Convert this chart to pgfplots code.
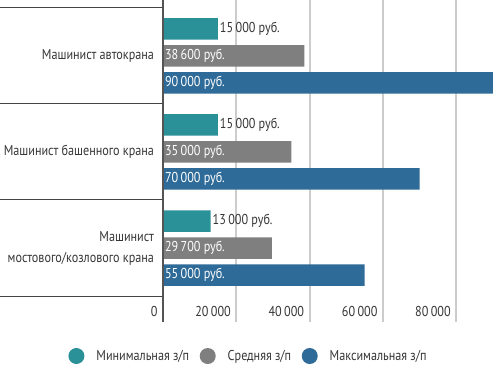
\documentclass[border=0pt]{standalone}
\usepackage{pgfplots}
\pgfplotsset{compat=1.18}
\usepackage{pgfplotstable}
\usepackage{fontspec}
\setmainfont{PT Sans}[FakeStretch=0.85]
\definecolor{cteal}{HTML}{2B9198}
\definecolor{cgray}{HTML}{7F7F7F}
\definecolor{cblue}{HTML}{2E6B99}
\definecolor{ctext}{HTML}{363636}
\definecolor{cgrid}{HTML}{CCCCCC}
\definecolor{caxis}{HTML}{555555}
\definecolor{csep}{HTML}{444444}
\newcommand{\lf}{\fontsize{14.3bp}{21bp}\selectfont}

\pgfplotstableread{
y minv avgv maxv
2 15000 38600 90000
1 15000 35000 70000
0 13000 29700 55000
}\data

\begin{document}
\begin{tikzpicture}
\useasboundingbox (0,0) rectangle (498bp,376bp);
\begin{axis}[
  at={(163bp,54bp)}, anchor=south west,
  scale only axis, width=335bp, height=322bp,
  xmin=0, xmax=91400, ymin=-0.7708, ymax=2.5833,
  axis line style={draw=none},
  major tick length=0pt,
  xtick={0,20000,40000,60000,80000},
  scaled x ticks=false,
  /pgf/number format/fixed,
  /pgf/number format/precision=0,
  /pgf/number format/1000 sep={\,},
  /pgf/number format/assume math mode=true,
  xmajorgrids, grid style={cgrid, line width=2bp},
  ytick={0,1,2},
  yticklabels={{Машинист\\мостового/козлового крана},{Машинист башенного крана},{Машинист автокрана}},
  yticklabel style={align=right, text=ctext, font=\lf, xshift=-5.5bp},
  xticklabel style={anchor=east, yshift=10.5bp, xshift=-2bp, text=ctext, font=\lf},
  bar width=21.5bp,
  legend columns=3,
  legend style={draw=none, fill=none, at={(0.2552,-0.1056)}, anchor=center, font=\lf, text=ctext,
    /tikz/every even column/.append style={column sep=8.5bp},
    /tikz/every odd column/.append style={column sep=10bp}},
  clip=false,
]
\addplot[xbar, fill=cteal, draw=none, bar shift=27bp, point meta=x,
  nodes near coords={\pgfmathprintnumber{\pgfplotspointmeta}~руб.},
  every node near coord/.append style={text=ctext, font=\lf, anchor=west, xshift=-1.5bp, yshift=27bp},
  legend image code/.code={\fill[cteal] (0,0) circle (8bp);}]
  table[x=minv, y=y] {\data};
\addplot[xbar, fill=cgray, draw=none, bar shift=0bp,
  legend image code/.code={\fill[cgray] (0,0) circle (8bp);}]
  table[x=avgv, y=y] {\data};
\addplot[xbar, fill=cblue, draw=none, bar shift=-27bp,
  legend image code/.code={\fill[cblue] (0,0) circle (8bp);}]
  table[x=maxv, y=y] {\data};
% value labels inside bars, at the bar start
\addplot[xbar, draw=none, fill=none, bar shift=0bp, forget plot, point meta=\thisrow{avgv},
  nodes near coords={\pgfmathprintnumber{\pgfplotspointmeta}~руб.},
  every node near coord/.append style={text=white, font=\lf, anchor=west, xshift=-1.5bp}]
  table[x expr=0, y=y] {\data};
\addplot[xbar, draw=none, fill=none, bar shift=0bp, forget plot, point meta=\thisrow{maxv},
  nodes near coords={\pgfmathprintnumber{\pgfplotspointmeta}~руб.},
  every node near coord/.append style={text=white, font=\lf, anchor=west, xshift=-1.5bp, yshift=-27bp}]
  table[x expr=0, y=y] {\data};
\draw[caxis, line width=2bp] (rel axis cs:0,0) -- (rel axis cs:0,1);
\foreach \yy in {-0.5,0.5,1.5,2.5} {
  \edef\tmp{\noexpand\draw[csep, line width=1bp] ([xshift=-163bp]axis cs:0,\yy) -- (axis cs:0,\yy);}\tmp
}
\legend{Минимальная з/п, Средняя з/п, Максимальная з/п}
\end{axis}
\end{tikzpicture}
\end{document}
